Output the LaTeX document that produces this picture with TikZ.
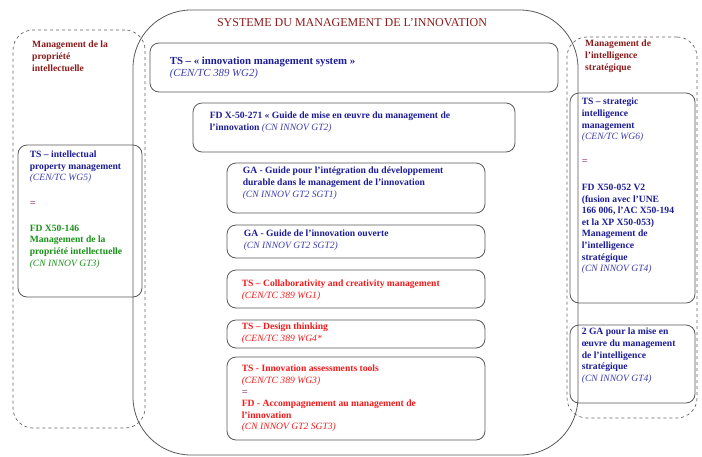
\documentclass[tikz,border=0pt]{standalone}
\usepackage{fontspec}
\setmainfont{Liberation Serif}
\usepackage{xcolor}
\usetikzlibrary{positioning}
\definecolor{headred}{RGB}{140,26,26}
\definecolor{tsblue}{RGB}{28,28,150}
\definecolor{refblue}{RGB}{60,60,175}
\definecolor{tsred}{RGB}{245,25,25}
\definecolor{tsgreen}{RGB}{25,145,25}
\definecolor{eqmauve}{RGB}{165,85,135}
\tikzstyle{every node}=[font=\fontsize{9.6}{11.6}\selectfont\bfseries, inner sep=0pt]
\tikzstyle{zone} = [rectangle, draw=black!60, dashed, rounded corners=20pt, line width=0.7pt]
\tikzstyle{block} = [rectangle, draw=black!65, rounded corners=9pt, line width=0.8pt]
\tikzstyle{desc} = [anchor=north west, align=left]
\newcommand{\refs}[1]{{\mdseries\itshape #1}}
\newcommand{\eqsign}{{\color{eqmauve}\fontsize{10.5}{11.6}\selectfont =}}

\begin{document}
\begin{tikzpicture}[x=1pt, y=-1pt]
    \useasboundingbox (0,0) rectangle (702,456);
    % Place zones
    \node [zone, minimum width=132pt, minimum height=398pt] (lzone) at (79,229) {};
    \node [zone, minimum width=130pt, minimum height=381pt] (rzone) at (632,227.5) {};
    \node [block, rounded corners=58pt, minimum width=445pt, minimum height=445pt] (sys) at (355.5,232.5) {};
    % Place boxes
    \node [block, minimum width=124pt, minimum height=152pt] (lip) at (80,221) {};
    \node [block, minimum width=408pt, minimum height=49pt] (ims) at (354,67.5) {};
    \node [block, minimum width=322pt, minimum height=49pt] (fd271) at (354,127.5) {};
    \node [block, minimum width=258pt, minimum height=50pt] (gadd) at (356,188) {};
    \node [block, minimum width=258pt, minimum height=33pt] (gaio) at (356,241.5) {};
    \node [block, minimum width=258pt, minimum height=38pt] (tscc) at (356,289) {};
    \node [block, minimum width=258pt, minimum height=28pt] (tsdt) at (356,334) {};
    \node [block, minimum width=258pt, minimum height=83pt] (tsia) at (356,398.5) {};
    \node [block, minimum width=125pt, minimum height=210pt] (tssi) at (632.5,198) {};
    \node [block, minimum width=125pt, minimum height=78pt] (gasi) at (632.5,364) {};
    % Headings
    \node [font=\fontsize{12}{14}\selectfont, text=headred] (title) at (352,23) {SYSTEME DU MANAGEMENT DE L’INNOVATION};
    \node [desc, text=headred] (lhead) at (32,41) {Management de la\\propriété\\intellectuelle};
    \node [desc, text=headred] (rhead) at (585,40) {Management de\\l’intelligence\\stratégique};
    % Texts in boxes
    \node [desc, text=tsblue] (liptxt) at ([shift={(12,6)}]lip.north west)
        {TS – intellectual\\property management\\{\color{refblue}\refs{(CEN/TC WG5)}}\\[14pt]
         \eqsign\\[13.5pt]
         {\color{tsgreen}FD X50-146}\\{\color{tsgreen}Management de la}\\{\color{tsgreen}propriété intellectuelle}\\{\color{tsgreen}\refs{(CN INNOV GT3)}}};
    \node [desc, text=tsblue, font=\fontsize{10.8}{12}\selectfont\bfseries] (imstxt) at ([shift={(20,14)}]ims.north west)
        {TS – « innovation management system »\\{\color{refblue}\refs{(CEN/TC 389 WG2)}}};
    \node [desc, text=tsblue] (fd271txt) at ([shift={(17,9.5)}]fd271.north west)
        {FD X-50-271 « Guide de mise en œuvre du management de\\l’innovation {\color{refblue}\refs{(CN INNOV GT2)}}};
    \node [desc, text=tsblue] (gaddtxt) at ([shift={(16,4.5)}]gadd.north west)
        {GA - Guide pour l’intégration du développement\\durable dans le management de l’innovation\\{\color{refblue}\refs{(CN INNOV GT2 SGT1)}}};
    \node [desc, text=tsblue] (gaiotxt) at ([shift={(17,5.5)}]gaio.north west)
        {GA - Guide de l’innovation ouverte\\{\color{refblue}\refs{(CN INNOV GT2 SGT2)}}};
    \node [desc, text=tsred] (tscctxt) at ([shift={(15,10.5)}]tscc.north west)
        {TS – Collaborativity and creativity management\\\refs{(CEN/TC 389 WG1)}};
    \node [desc, text=tsred] (tsdttxt) at ([shift={(15,3.5)}]tsdt.north west)
        {TS – Design thinking\\\refs{(CEN/TC 389 WG4*}};
    \node [desc, text=tsred] (tsiatxt) at ([shift={(15,8.5)}]tsia.north west)
        {TS - Innovation assessments tools\\\refs{(CEN/TC 389 WG3)}\\\eqsign\\FD - Accompagnement au management de\\l’innovation\\\refs{(CN INNOV GT2 SGT3)}};
    \node [desc, text=tsblue] (tssitxt) at ([shift={(12,5.5)}]tssi.north west)
        {TS – strategic\\intelligence\\management\\{\color{refblue}\refs{(CEN/TC WG6)}}\\[13.5pt]
         \eqsign\\[14pt]
         FD X50-052 V2\\(fusion avec l’UNE\\166 006, l’AC X50-194\\et la XP X50-053)\\Management de\\l’intelligence\\stratégique\\{\color{refblue}\refs{(CN INNOV GT4)}}};
    \node [desc, text=tsblue] (gasitxt) at ([shift={(12,3.5)}]gasi.north west)
        {2 GA pour la mise en\\œuvre du management\\de l’intelligence\\stratégique\\{\color{refblue}\refs{(CN INNOV GT4)}}};
\end{tikzpicture}
\end{document}
